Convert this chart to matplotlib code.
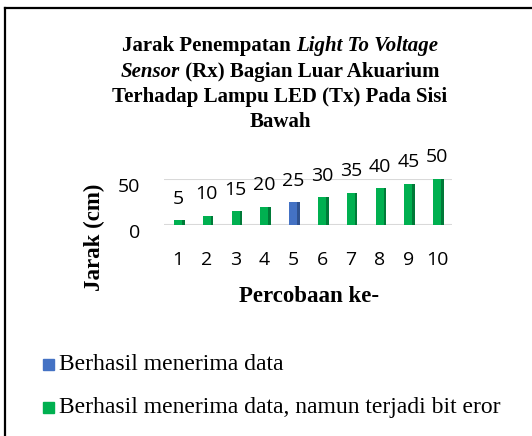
import matplotlib.pyplot as plt
import matplotlib.transforms as mtransforms
import numpy as np

percobaan = ['1', '2', '3', '4', '5', '6', '7', '8', '9', '10']
jarak = [5, 10, 15, 20, 25, 30, 35, 40, 45, 50]
status = ['eror', 'eror', 'eror', 'eror', 'ok', 'eror', 'eror', 'eror', 'eror', 'eror']
legend_labels = ['Berhasil menerima data',
                 'Berhasil menerima data, namun terjadi bit eror']
legend_status = ['ok', 'eror']

warna = {'ok': '#4472C4', 'eror': '#00B050'}
warna_sisi = {'ok': '#2F528F', 'eror': '#007A38'}

W, H = 532, 436
fig = plt.figure(figsize=(W / 100, H / 100), dpi=100)
renderer = fig.canvas.get_renderer()

# bingkai (hanya atas dan kiri yang terlihat)
fig.add_artist(plt.Line2D([4.5 / W, 1], [1 - 8.5 / H, 1 - 8.5 / H], color='black', lw=1.6))
fig.add_artist(plt.Line2D([4.5 / W, 4.5 / W], [0, 1 - 8.5 / H], color='black', lw=1.6))

serif = 'Liberation Serif'
fs_judul = 15


def baris_judul(bagian, y_px, cx=280):
    # bagian: list of (teks, miring)
    teks = []
    for s, miring in bagian:
        t = fig.text(0, 1 - y_px / H, s, ha='left', va='center', family=serif,
                     weight='bold', style='italic' if miring else 'normal', fontsize=fs_judul)
        teks.append(t)
    lebar = [t.get_window_extent(renderer).width for t in teks]
    x = cx - sum(lebar) / 2
    for t, w in zip(teks, lebar):
        t.set_x(x / W)
        x += w


baris_judul([('Jarak Penempatan ', False), ('Light To Voltage', True)], 46)
baris_judul([('Sensor', True), (' (Rx) Bagian Luar Akuarium', False)], 72)
baris_judul([('Terhadap Lampu LED (Tx) Pada Sisi', False)], 97)
baris_judul([('Bawah', False)], 122)

ax = fig.add_axes([163.6 / W, 1 - 225 / H, 288 / W, 46 / H])
x = np.arange(1, len(jarak) + 1)
lebar = 0.28
for xi, v, s in zip(x, jarak, status):
    ax.bar(xi, v, width=lebar, color=warna[s], zorder=3)
    ax.bar(xi + lebar / 2, v, width=0.09, align='edge', color=warna_sisi[s], zorder=3)
    ax.annotate(str(v), (xi, v), xytext=(0, 9), textcoords='offset points',
                ha='center', va='bottom', family='Open Sans', fontsize=14)

ax.set_xlim(0.5, 10.5)
ax.set_ylim(0, 50)
ax.set_yticks([0, 50])
ax.set_xticks(x)
ax.set_xticklabels(percobaan)
ax.tick_params(length=0, labelsize=14)
ax.tick_params(axis='x', pad=19)
ax.tick_params(axis='y', pad=17)
geser = mtransforms.ScaledTranslation(0, -4 / 72, fig.dpi_scale_trans)
for lbl in ax.get_yticklabels():
    lbl.set_transform(lbl.get_transform() + geser)
for lbl in ax.get_xticklabels() + ax.get_yticklabels():
    lbl.set_family('Open Sans')
ax.grid(axis='y', color='#D9D9D9', lw=1.5, zorder=0)
for sp in ax.spines.values():
    sp.set_visible(False)

fig.text(309 / W, 1 - 297 / H, 'Percobaan ke-', ha='center', va='center',
         family=serif, weight='bold', fontsize=16.5)
fig.text(94 / W, 1 - 237 / H, 'Jarak (cm)', ha='center', va='center', rotation=90,
         family=serif, weight='bold', fontsize=16.5)

for i, (s, lab) in enumerate(zip(legend_status, legend_labels)):
    y = 1 - (364 + 43 * i) / H
    fig.add_artist(plt.Rectangle((43 / W, y - 5.5 / H), 11 / W, 11 / H,
                                 color=warna[s], transform=fig.transFigure))
    fig.text(59 / W, y, lab, ha='left', va='center', family=serif, fontsize=17)

fig.savefig('out.png', dpi=100)
